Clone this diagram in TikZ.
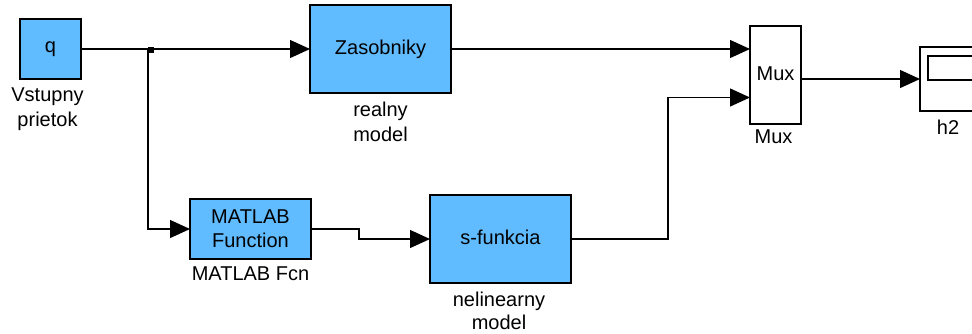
\documentclass[tikz,border=0pt]{standalone}
\usepackage{fontspec}
\setmainfont{Liberation Sans}
\usetikzlibrary{arrows.meta,calc}
\definecolor{blockblue}{RGB}{96,187,255}

\begin{document}
\begin{tikzpicture}[x=1pt,y=-1pt,
  txt/.style={font=\fontsize{20}{25}\selectfont},
  blk/.style={txt,draw=black,line width=1.4pt,fill=blockblue,inner sep=0pt,outer sep=0pt,align=center},
  wblk/.style={blk,fill=white},
  lbl/.style={txt,inner sep=0pt,align=center,anchor=north},
  sig/.style={draw=black,line width=1.3pt,-{Triangle[length=20pt,width=18pt]}},
  junct/.style={fill=black,minimum size=6pt,inner sep=0pt},
]
\clip (0,0) rectangle (972,333);
\fill[white] (0,0) rectangle (972,333);

% blocks
\node[blk,minimum width=61pt,minimum height=60pt] (q) at (50.5,49) {q};
\node[blk,minimum width=141pt,minimum height=88pt] (zas) at (380.5,49) {Zasobniky};
\node[blk,minimum width=121pt,minimum height=60pt] (mf) at (250.5,229) {MATLAB\\[-1pt]Function};
\node[blk,minimum width=141pt,minimum height=88pt] (sf) at (500.5,239) {\raisebox{3pt}{s-funkcia}};
\node[wblk,minimum width=51pt,minimum height=98pt] (mux) at (775.5,75) {\raisebox{3.5pt}{Mux}};
\node[wblk,minimum width=64pt,minimum height=64pt] (scope) at (952,79) {};
\node[draw=black,line width=1.4pt,inner sep=0pt,outer sep=0pt,
      minimum width=48pt,minimum height=24pt] (screen) at (952,68) {};

% block names
\node[lbl] (qlab) at ([xshift=-3pt,yshift=-8.5pt]q.south) {Vstupny\\prietok};
\node[lbl] (zaslab) at ([yshift=-8.5pt]zas.south) {realny\\model};
\node[lbl] (mflab) at ([yshift=-8pt]mf.south) {MATLAB Fcn};
\node[lbl,font=\fontsize{20}{23}\selectfont] (sflab) at ([xshift=-1.5pt,yshift=-9pt]sf.south) {nelinearny\\model};
\node[lbl] (muxlab) at ([xshift=-2pt,yshift=-6pt]mux.south) {Mux};
\node[lbl] (scopelab) at ([xshift=-4pt,yshift=-8.5pt]scope.south) {h2};

% ports and branch point
\coordinate (m1) at (mux.west |- zas.east);
\coordinate (m2) at ([yshift=-22.5pt]mux.west);
\coordinate (mo) at (mux.east |- scope.west);
\coordinate (tap) at (148,49);
\node[junct] (j) at (151,50) {};

% signal lines
\draw[sig] (q.east) -- (zas.west);
\draw[sig] (tap) |- (mf.west);
\draw[sig] (mf.east) -- ++(48,0) |- (sf.west);
\draw[sig] (zas.east) -- (m1);
\draw[sig] (sf.east) -- ++(97,0) |- (m2);
\draw[sig] (mo) -- (scope.west);
\end{tikzpicture}
\end{document}
